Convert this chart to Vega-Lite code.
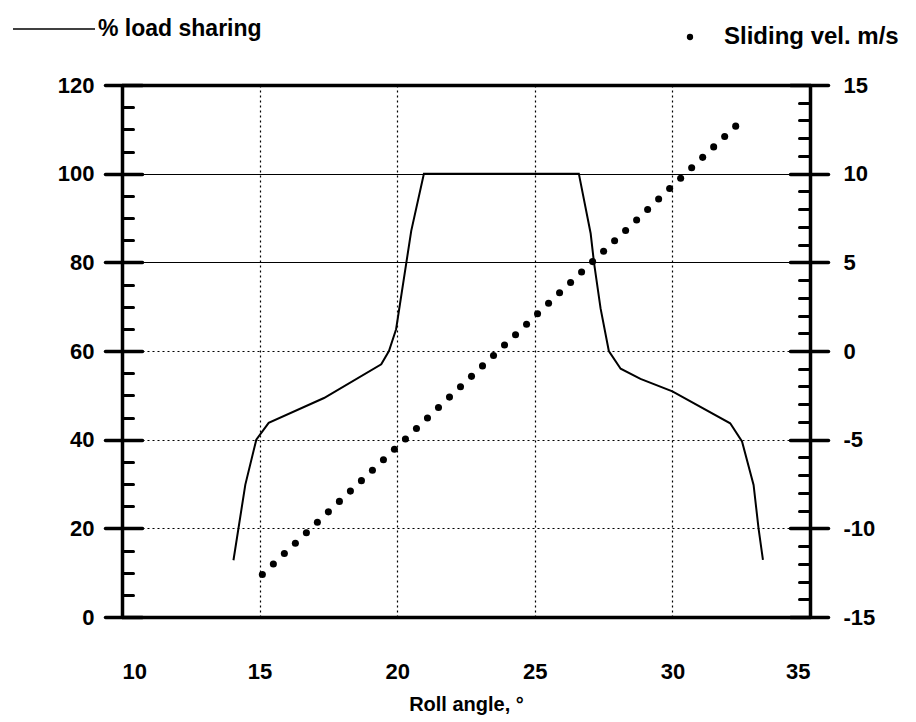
{
  "$schema": "https://vega.github.io/schema/vega-lite/v6.json",
  "width": 688,
  "height": 532,
  "autosize": {"type": "none"},
  "padding": {"left": 122, "top": 85, "right": 106, "bottom": 105},
  "background": "white",
  "config": {
    "view": {"stroke": null},
    "font": "Liberation Sans",
    "axis": {"labelColor": "black", "titleColor": "black", "domainColor": "black", "tickColor": "black", "gridColor": "black", "gridOpacity": 1, "labelFont": "Liberation Sans", "titleFont": "Liberation Sans", "tickCap": "round", "labelFontWeight": "bold"},
    "legend": {"labelFont": "Liberation Sans", "labelColor": "black", "labelFontSize": 22, "labelFontWeight": "bold", "padding": 0, "labelLimit": 400}
  },
  "datasets": {
    "load": [
      {"angle": 14.05, "load": 12.8},
      {"angle": 14.48, "load": 29.8},
      {"angle": 14.88, "load": 40},
      {"angle": 15.33, "load": 43.8},
      {"angle": 17.34, "load": 49.4},
      {"angle": 19.42, "load": 57.0},
      {"angle": 19.7, "load": 60},
      {"angle": 19.96, "load": 64.9},
      {"angle": 20.51, "load": 87.1},
      {"angle": 20.97, "load": 100},
      {"angle": 26.6, "load": 100},
      {"angle": 27.03, "load": 86.5},
      {"angle": 27.15, "load": 80},
      {"angle": 27.39, "load": 69.6},
      {"angle": 27.69, "load": 60},
      {"angle": 28.12, "load": 56},
      {"angle": 28.84, "load": 53.7},
      {"angle": 30.0, "load": 50.9},
      {"angle": 32.1, "load": 43.7},
      {"angle": 32.53, "load": 39.6},
      {"angle": 32.95, "load": 29.8},
      {"angle": 33.13, "load": 20},
      {"angle": 33.29, "load": 12.9}
    ],
    "vel": [
      {"angle": 15.1, "vel": -12.6},
      {"angle": 15.5, "vel": -12.01},
      {"angle": 15.9, "vel": -11.42},
      {"angle": 16.3, "vel": -10.84},
      {"angle": 16.7, "vel": -10.25},
      {"angle": 17.1, "vel": -9.66},
      {"angle": 17.5, "vel": -9.07},
      {"angle": 17.9, "vel": -8.48},
      {"angle": 18.3, "vel": -7.9},
      {"angle": 18.7, "vel": -7.31},
      {"angle": 19.1, "vel": -6.72},
      {"angle": 19.5, "vel": -6.13},
      {"angle": 19.9, "vel": -5.54},
      {"angle": 20.3, "vel": -4.96},
      {"angle": 20.7, "vel": -4.37},
      {"angle": 21.1, "vel": -3.78},
      {"angle": 21.5, "vel": -3.19},
      {"angle": 21.9, "vel": -2.6},
      {"angle": 22.3, "vel": -2.02},
      {"angle": 22.7, "vel": -1.43},
      {"angle": 23.1, "vel": -0.84},
      {"angle": 23.5, "vel": -0.25},
      {"angle": 23.9, "vel": 0.34},
      {"angle": 24.3, "vel": 0.92},
      {"angle": 24.7, "vel": 1.51},
      {"angle": 25.1, "vel": 2.1},
      {"angle": 25.5, "vel": 2.69},
      {"angle": 25.9, "vel": 3.28},
      {"angle": 26.3, "vel": 3.86},
      {"angle": 26.7, "vel": 4.45},
      {"angle": 27.1, "vel": 5.04},
      {"angle": 27.5, "vel": 5.63},
      {"angle": 27.9, "vel": 6.22},
      {"angle": 28.3, "vel": 6.8},
      {"angle": 28.7, "vel": 7.39},
      {"angle": 29.1, "vel": 7.98},
      {"angle": 29.5, "vel": 8.57},
      {"angle": 29.9, "vel": 9.16},
      {"angle": 30.3, "vel": 9.74},
      {"angle": 30.7, "vel": 10.33},
      {"angle": 31.1, "vel": 10.92},
      {"angle": 31.5, "vel": 11.51},
      {"angle": 31.9, "vel": 12.1},
      {"angle": 32.3, "vel": 12.68}
    ]
  },
  "layer": [
    {
      "layer": [
        {
          "data": {"name": "load"},
          "mark": {"type": "line", "strokeWidth": 2},
          "encoding": {
            "x": {
              "field": "angle", "type": "quantitative",
              "scale": {"domain": [10, 35], "nice": false, "zero": false},
              "axis": {
                "values": [10, 15, 20, 25, 30, 35],
                "ticks": false, "tickSize": 0,
                "domainWidth": 3.5,
                "labelFontSize": 22, "labelPadding": 44,
                "grid": true, "gridDash": [2, 3], "gridWidth": 1.2,
                "title": "Roll angle, °", "titleFontSize": 20, "titleFontWeight": "bold", "titlePadding": 12
              }
            },
            "y": {
              "field": "load", "type": "quantitative",
              "scale": {"domain": [0, 120], "nice": false},
              "axis": {
                "orient": "left",
                "values": [0, 20, 40, 60, 80, 100, 120],
                "domainWidth": 3.5, "tickWidth": 3.5, "tickSize": 17,
                "labelFontSize": 22, "labelPadding": 11,
                "title": null,
                "grid": true,
                "gridDash": {"condition": {"test": "datum.value >= 80", "value": []}, "value": [2, 3]},
                "gridWidth": {"condition": {"test": "datum.value == 120", "value": 3.5}, "value": 1.2}
              }
            },
            "stroke": {
              "datum": "% load sharing",
              "scale": {"range": ["black"]},
              "legend": {"orient": "none", "legendX": -110, "legendY": -98, "title": null, "symbolType": "stroke", "symbolSize": 6724, "symbolStrokeWidth": 1.5, "labelOffset": 2, "labelFontSize": 23}
            }
          }
        },
        {
          "data": {"name": "load"},
          "mark": {"type": "point", "opacity": 0},
          "encoding": {
            "y": {"field": "load", "type": "quantitative", "axis": {"orient": "left", "values": [0, 20, 40, 60, 80, 100, 120], "domain": false, "labels": false, "grid": false, "tickSize": -20, "tickWidth": 3.5, "title": null}}
          }
        },
        {
          "data": {"name": "load"},
          "mark": {"type": "point", "opacity": 0},
          "encoding": {
            "y": {"field": "load", "type": "quantitative", "axis": {"orient": "left", "values": [5, 10, 15, 25, 30, 35, 45, 50, 55, 65, 70, 75, 85, 90, 95, 105, 110, 115], "domain": false, "labels": false, "grid": false, "tickSize": -11, "tickWidth": 3, "title": null}}
          }
        }
      ],
      "resolve": {"scale": {"y": "shared"}, "axis": {"y": "independent"}}
    },
    {
      "layer": [
        {
          "data": {"name": "vel"},
          "mark": {"type": "point", "filled": true, "color": "black", "size": 50, "opacity": 1},
          "encoding": {
            "x": {
              "field": "angle", "type": "quantitative",
              "scale": {"domain": [10, 35], "nice": false, "zero": false},
              "axis": {
                "values": [10, 15, 20, 25, 30, 35],
                "ticks": false, "tickSize": 0,
                "domainWidth": 3.5,
                "labelFontSize": 22, "labelPadding": 44,
                "grid": true, "gridDash": [2, 3], "gridWidth": 1.2,
                "title": "Roll angle, °", "titleFontSize": 20, "titleFontWeight": "bold", "titlePadding": 12
              }
            },
            "y": {
              "field": "vel", "type": "quantitative",
              "scale": {"domain": [-15, 15], "nice": false, "zero": false},
              "axis": {
                "orient": "right",
                "values": [-15, -10, -5, 0, 5, 10, 15],
                "labelExpr": "'' + datum.value",
                "domainWidth": 3.5, "tickWidth": 3.5, "tickSize": 18,
                "labelFontSize": 22, "labelPadding": 15,
                "title": null, "grid": false
              }
            },
            "shape": {
              "datum": "Sliding vel. m/s",
              "scale": {"range": ["circle"]},
              "legend": {"orient": "none", "legendX": 556, "legendY": -60, "title": null, "symbolSize": 40, "symbolFillColor": "black", "symbolStrokeColor": "black", "labelOffset": 22, "labelFontSize": 24}
            }
          }
        },
        {
          "data": {"name": "vel"},
          "mark": {"type": "point", "opacity": 0},
          "encoding": {
            "y": {"field": "vel", "type": "quantitative", "axis": {"orient": "right", "values": [-15, -10, -5, 0, 5, 10, 15], "domain": false, "labels": false, "grid": false, "tickSize": -20, "tickWidth": 3.5, "title": null}}
          }
        },
        {
          "data": {"name": "vel"},
          "mark": {"type": "point", "opacity": 0},
          "encoding": {
            "y": {"field": "vel", "type": "quantitative", "axis": {"orient": "right", "values": [-14, -13, -12, -11, -9, -8, -7, -6, -4, -3, -2, -1, 1, 2, 3, 4, 6, 7, 8, 9, 11, 12, 13, 14], "domain": false, "labels": false, "grid": false, "tickSize": -11, "tickWidth": 3, "title": null}}
          }
        }
      ],
      "resolve": {"scale": {"y": "shared"}, "axis": {"y": "independent"}}
    }
  ],
  "resolve": {"scale": {"y": "independent"}, "axis": {"y": "independent"}}
}
